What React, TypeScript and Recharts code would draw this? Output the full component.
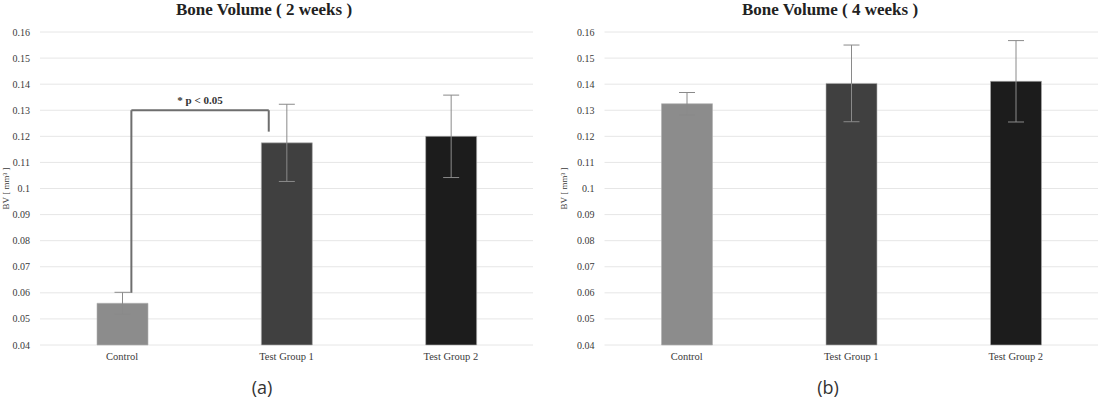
import { BarChart, Bar, XAxis, YAxis, CartesianGrid, ErrorBar, Cell, ReferenceLine } from "recharts";

const groups = ["Control", "Test Group 1", "Test Group 2"];
const groupPos = [0.5, 1.5, 2.5];
const barColors = ["#8c8c8c", "#404040", "#1c1c1c"];

const week2Mean = [0.056, 0.1175, 0.12];
const week2Err = [0.0042, 0.0148, 0.0158];
const week4Mean = [0.1325, 0.1403, 0.1411];
const week4Err = [0.0043, 0.0147, 0.0156];

const yTicks = [0.04, 0.05, 0.06, 0.07, 0.08, 0.09, 0.1, 0.11, 0.12, 0.13, 0.14, 0.15, 0.16];
const yTickLabels = ["0.04", "0.05", "0.06", "0.07", "0.08", "0.09", "0.1", "0.11", "0.12", "0.13", "0.14", "0.15", "0.16"];

// significance bracket (in band units on a hidden numeric axis, and y values)
const bracketX = [0.556, 1.392];
const bracketTop = 0.13;
const bracketLeftEnd = 0.06;
const bracketRightEnd = 0.1218;

const serif = "'Liberation Serif', 'Times New Roman', serif";
const textColor = "#3a3a3a";

function buildRows(mean: number[], err: number[]) {
  return groups.map((g, i) => ({ group: g, pos: groupPos[i], bv: mean[i], err: err[i] }));
}

const tickLabel = (v: number) => {
  const idx = yTicks.findIndex((t) => Math.abs(t - v) < 1e-9);
  return idx >= 0 ? yTickLabels[idx] : String(v);
};

function Panel({
  mean,
  err,
  yAxisWidth,
  rightMargin,
  labelDx,
  withBracket,
}: {
  mean: number[];
  err: number[];
  yAxisWidth: number;
  rightMargin: number;
  labelDx: number;
  withBracket?: boolean;
}) {
  const rows = buildRows(mean, err);
  const bracketStroke = "#6e6e6e";
  return (
    <BarChart width={550} height={400} data={rows} margin={{ top: 32, right: rightMargin, left: 10, bottom: 35 }} barSize={51}>
      <CartesianGrid vertical={false} stroke="#e6e6e6" strokeWidth={1} />
      <XAxis
        dataKey="group"
        height={20}
        axisLine={false}
        tickLine={false}
        tickSize={6}
        tickMargin={2}
        tick={{ fontSize: 10.5, fill: textColor, fontFamily: serif }}
      />
      <XAxis xAxisId="n" dataKey="pos" type="number" domain={[0, 3]} hide allowDataOverflow />
      <YAxis
        domain={[0.04, 0.16]}
        ticks={yTicks}
        interval={0}
        width={yAxisWidth}
        axisLine={false}
        tickLine={false}
        tickSize={8}
        tickMargin={2}
        tickFormatter={tickLabel}
        tick={{ fontSize: 10, fill: textColor, fontFamily: serif }}
        label={{
          value: "BV [ mm³ ]",
          angle: -90,
          position: "insideLeft",
          dx: labelDx,
          style: { fontSize: 9, fill: textColor, fontFamily: serif, textAnchor: "middle" },
        }}
      />
      <Bar dataKey="bv" isAnimationActive={false} stroke="#b0b0b0" strokeOpacity={0.6} strokeWidth={1}>
        {rows.map((r, i) => (
          <Cell key={r.group} fill={barColors[i]} />
        ))}
        <ErrorBar dataKey="err" width={8} stroke="#8a8a8a" strokeWidth={1} direction="y" />
      </Bar>
      {withBracket && (
        <ReferenceLine
          xAxisId="n"
          segment={[
            { x: bracketX[0], y: bracketTop },
            { x: bracketX[1], y: bracketTop },
          ]}
          stroke={bracketStroke}
          strokeWidth={2}
          ifOverflow="visible"
          label={{
            value: "* p < 0.05",
            position: "top",
            offset: 6,
            style: { fontSize: 11, fontWeight: "bold", fill: "#333", fontFamily: serif },
          }}
        />
      )}
      {withBracket && (
        <ReferenceLine
          xAxisId="n"
          segment={[
            { x: bracketX[0], y: bracketTop },
            { x: bracketX[0], y: bracketLeftEnd },
          ]}
          stroke={bracketStroke}
          strokeWidth={2}
          ifOverflow="visible"
        />
      )}
      {withBracket && (
        <ReferenceLine
          xAxisId="n"
          segment={[
            { x: bracketX[1], y: bracketTop },
            { x: bracketX[1], y: bracketRightEnd },
          ]}
          stroke={bracketStroke}
          strokeWidth={2}
          ifOverflow="visible"
        />
      )}
    </BarChart>
  );
}

const titleStyle: React.CSSProperties = {
  position: "absolute",
  top: 0,
  fontFamily: serif,
  fontWeight: "bold",
  fontSize: 17,
  color: "#222",
  transform: "translateX(-50%)",
  whiteSpace: "nowrap",
  lineHeight: "20px",
};

const captionStyle: React.CSSProperties = {
  position: "absolute",
  top: 375,
  fontFamily: "'Open Sans', 'DejaVu Sans', sans-serif",
  fontSize: 18,
  color: "#333",
  transform: "translateX(-50%)",
  lineHeight: "24px",
};

export default function App() {
  return (
    <div style={{ position: "absolute", left: 0, top: 0, width: 1101, height: 400, background: "#fff", overflow: "hidden" }}>
      <div style={{ position: "absolute", left: 0, top: 0 }}>
        <Panel mean={week2Mean} err={week2Err} yAxisWidth={30} rightMargin={17} labelDx={-9} withBracket />
      </div>
      <div style={{ position: "absolute", left: 550, top: 0 }}>
        <Panel mean={week4Mean} err={week4Err} yAxisWidth={44.5} rightMargin={2} labelDx={-1} />
      </div>
      <div style={{ ...titleStyle, left: 264 }}>Bone Volume ( 2 weeks )</div>
      <div style={{ ...titleStyle, left: 830 }}>Bone Volume ( 4 weeks )</div>
      <div style={{ ...captionStyle, left: 262 }}>(a)</div>
      <div style={{ ...captionStyle, left: 828 }}>(b)</div>
    </div>
  );
}
